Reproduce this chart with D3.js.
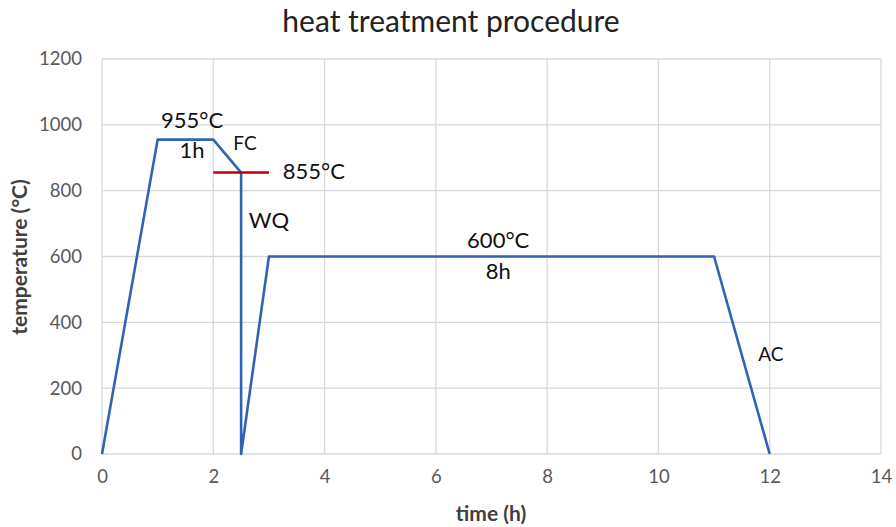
<!DOCTYPE html>
<html>
<head>
<meta charset="utf-8">
<script src="https://cdn.jsdelivr.net/npm/d3@7"></script>
<style>
  body { margin: 0; background: #fff; }
  svg text { font-family: Lato, "Open Sans", sans-serif; }
</style>
</head>
<body>
<svg id="chart" width="896" height="527"></svg>
<script>
// heat treatment path: time (h) and temperature (°C)
const timeValues = [0, 1, 2, 2.5, 2.5, 3, 11, 12];
const tempValues = [0, 955, 955, 855, 0, 600, 600, 0];

// red marker for the furnace cool stop
const markerTime = [2, 3];
const markerTemp = [855, 855];

const xTicks = [0, 2, 4, 6, 8, 10, 12, 14];
const yTicks = [0, 200, 400, 600, 800, 1000, 1200];

// annotation texts, placed in data units
const noteText = ['955°C', '1h', 'FC', '855°C', 'WQ', '600°C', '8h', 'AC'];
const noteTime = [1.62, 1.62, 2.57, 3.25, 3.0, 7.12, 7.12, 12.02];
const noteTemp = [1014, 923, 944, 859, 710, 649, 554, 302];

let svg = d3.select('#chart');
let plotLeft = 102, plotRight = 881, plotTop = 59, plotBottom = 454;

let x = d3.scaleLinear().domain([0, 14]).range([plotLeft, plotRight]);
let y = d3.scaleLinear().domain([0, 1200]).range([plotBottom, plotTop]);

// title
svg.append('text')
    .attr('x', 451)
    .attr('y', 32)
    .attr('text-anchor', 'middle')
    .attr('font-size', 30)
    .attr('fill', '#222')
    .text('heat treatment procedure');

// gridlines
svg.append('g')
    .selectAll('line')
    .data(yTicks)
    .enter()
    .append('line')
    .attr('x1', plotLeft).attr('x2', plotRight)
    .attr('y1', d => y(d)).attr('y2', d => y(d))
    .attr('stroke', '#d9d9d9')
    .attr('stroke-width', 1.3);

svg.append('g')
    .selectAll('line')
    .data(xTicks)
    .enter()
    .append('line')
    .attr('x1', d => x(d)).attr('x2', d => x(d))
    .attr('y1', plotTop).attr('y2', plotBottom)
    .attr('stroke', '#d9d9d9')
    .attr('stroke-width', 1.3);

// axes (labels only, Excel style)
let xAxis = svg.append('g')
    .attr('transform', 'translate(0,' + plotBottom + ')')
    .call(d3.axisBottom(x).tickValues(xTicks).tickSize(0).tickPadding(16));
let yAxis = svg.append('g')
    .attr('transform', 'translate(' + plotLeft + ',0)')
    .call(d3.axisLeft(y).tickValues(yTicks).tickFormat(d3.format('d')).tickSize(0).tickPadding(20));
[xAxis, yAxis].forEach(function(a) {
    a.select('.domain').remove();
    a.selectAll('text')
        .attr('font-family', 'Lato, sans-serif')
        .attr('font-size', 18.5)
        .attr('fill', '#595959');
});

// axis titles
svg.append('text')
    .attr('x', 491)
    .attr('y', 521)
    .attr('text-anchor', 'middle')
    .attr('font-size', 21)
    .attr('font-weight', 'bold')
    .attr('fill', '#404040')
    .text('time (h)');

svg.append('text')
    .attr('transform', 'translate(27,257) rotate(-90)')
    .attr('text-anchor', 'middle')
    .attr('font-size', 21)
    .attr('font-weight', 'bold')
    .attr('fill', '#404040')
    .text('temperature (°C)');

// main path
let points = timeValues.map((t, i) => [t, tempValues[i]]);
let line = d3.line().x(d => x(d[0])).y(d => y(d[1]));

svg.append('path')
    .datum(points)
    .attr('d', line)
    .attr('fill', 'none')
    .attr('stroke', '#2e63b5')
    .attr('stroke-width', 2.6)
    .attr('stroke-linejoin', 'round');

// red line at 855
svg.append('path')
    .datum(markerTime.map((t, i) => [t, markerTemp[i]]))
    .attr('d', line)
    .attr('stroke', '#c00000')
    .attr('stroke-width', 2.4);

// notes
svg.append('g')
    .selectAll('text')
    .data(noteText)
    .enter()
    .append('text')
    .attr('x', (d, i) => x(noteTime[i]))
    .attr('y', (d, i) => y(noteTemp[i]))
    .attr('dy', '0.35em')
    .attr('text-anchor', d => d == '855°C' ? 'start' : 'middle')
    .attr('font-size', d => (d == 'FC' || d == 'AC') ? 19 : 22)
    .attr('fill', '#111')
    .text(d => d);
</script>
</body>
</html>
